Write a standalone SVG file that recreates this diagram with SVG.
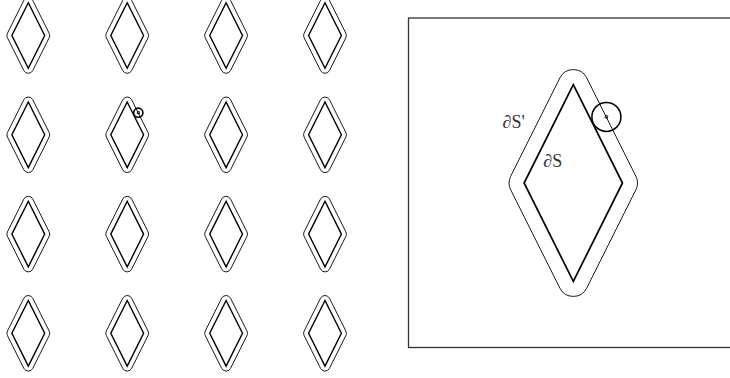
<svg xmlns="http://www.w3.org/2000/svg" xmlns:xlink="http://www.w3.org/1999/xlink" width="730" height="378" viewBox="0 0 730 378">
  <style>
    .inner { fill: none; stroke: #000; stroke-width: 1.4; stroke-linejoin: miter; }
    .outer { fill: none; stroke: #000; stroke-width: 0.9; }
    .frame { fill: none; stroke: #333; stroke-width: 1.3; }
    .probe { fill: none; stroke: #000; stroke-width: 1.5; }
    .probe-small { fill: none; stroke: #000; stroke-width: 1.6; }
    .mark { fill: none; stroke: #000; stroke-width: 0.8; }
    .label { font-family: "Liberation Serif", "DejaVu Serif", serif; font-size: 18px; fill: #333; }
  </style>
  <defs>
    <g id="tile">
      <path class="outer" d="M4.472,-35.036 L20.872,-2.236 A5,5 0 0 1 20.872,2.236 L4.472,35.036 A5,5 0 0 1 -4.472,35.036 L-20.872,2.236 A5,5 0 0 1 -20.872,-2.236 L-4.472,-35.036 A5,5 0 0 1 4.472,-35.036 Z"/>
      <path class="inner" d="M0,-32.8 L16.4,0 L0,32.8 L-16.4,0 Z"/>
    </g>
  </defs>

  <g id="grid">
    <use id="t11" xlink:href="#tile" href="#tile" transform="translate(28.3,35.5)"/>
    <use id="t12" xlink:href="#tile" href="#tile" transform="translate(127.2,35.5)"/>
    <use id="t13" xlink:href="#tile" href="#tile" transform="translate(226.1,35.5)"/>
    <use id="t14" xlink:href="#tile" href="#tile" transform="translate(325,35.5)"/>
    <use id="t21" xlink:href="#tile" href="#tile" transform="translate(28.3,134.8)"/>
    <use id="t22" xlink:href="#tile" href="#tile" transform="translate(127.2,134.8)"/>
    <use id="t23" xlink:href="#tile" href="#tile" transform="translate(226.1,134.8)"/>
    <use id="t24" xlink:href="#tile" href="#tile" transform="translate(325,134.8)"/>
    <use id="t31" xlink:href="#tile" href="#tile" transform="translate(28.3,234.1)"/>
    <use id="t32" xlink:href="#tile" href="#tile" transform="translate(127.2,234.1)"/>
    <use id="t33" xlink:href="#tile" href="#tile" transform="translate(226.1,234.1)"/>
    <use id="t34" xlink:href="#tile" href="#tile" transform="translate(325,234.1)"/>
    <use id="t41" xlink:href="#tile" href="#tile" transform="translate(28.3,333.3)"/>
    <use id="t42" xlink:href="#tile" href="#tile" transform="translate(127.2,333.3)"/>
    <use id="t43" xlink:href="#tile" href="#tile" transform="translate(226.1,333.3)"/>
    <use id="t44" xlink:href="#tile" href="#tile" transform="translate(325,333.3)"/>
  </g>

  <g id="small-probe">
    <circle class="probe-small" cx="138.3" cy="112.7" r="4.6"/>
    <rect class="mark" x="137.3" y="111.7" width="2" height="2"/>
  </g>

  <g id="zoom-view">
    <rect class="frame" x="408.5" y="18" width="330" height="329.5"/>
    <path class="outer" d="M586.716,77.892 L635.916,176.292 A15,15 0 0 1 635.916,189.708 L586.716,288.108 A15,15 0 0 1 559.884,288.108 L510.684,189.708 A15,15 0 0 1 510.684,176.292 L559.884,77.892 A15,15 0 0 1 586.716,77.892 Z"/>
    <path class="inner" style="stroke-width:1.7" d="M573.3,84.6 L622.5,183 L573.3,281.4 L524.1,183 Z"/>
    <circle class="probe" cx="606.4" cy="116.9" r="14.5"/>
    <rect class="mark" x="605.2" y="115.7" width="2.4" height="2.4" transform="rotate(20 606.4 116.9)"/>
    <text class="label" x="502.5" y="128.3">∂S'</text>
    <text class="label" x="543.3" y="166.5">∂S</text>
  </g>
</svg>
